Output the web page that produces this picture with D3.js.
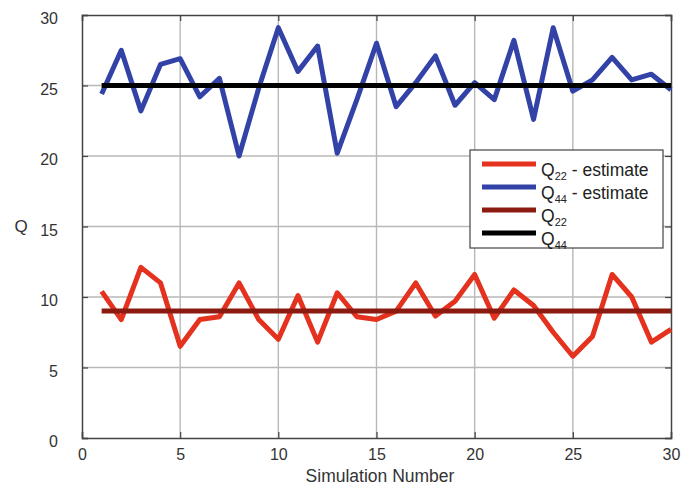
<!DOCTYPE html>
<html>
<head>
<meta charset="utf-8">
<script src="https://cdn.jsdelivr.net/npm/d3@7"></script>
<style>
  body { margin: 0; background: #fff; }
  svg text { font-family: "Liberation Sans", Arial, sans-serif; }
</style>
</head>
<body>
<div id="chart"></div>
<script>
const svgWidth = 690;
const svgHeight = 486;

// simulation number 1..30
const simNumbers = d3.range(1, 31);
const q22Estimate = [10.4, 8.4, 12.1, 11.0, 6.5, 8.4, 8.6, 11.0, 8.4, 7.0,
  10.1, 6.8, 10.3, 8.6, 8.4, 9.0, 11.0, 8.65, 9.7, 11.6,
  8.5, 10.5, 9.4, 7.5, 5.8, 7.2, 11.6, 10.0, 6.8, 7.7];
const q44Estimate = [24.4, 27.5, 23.2, 26.5, 26.9, 24.2, 25.5, 20.0, 24.8, 29.1,
  26.0, 27.8, 20.2, 24.0, 28.0, 23.5, 25.2, 27.1, 23.6, 25.2,
  24.0, 28.2, 22.6, 29.1, 24.6, 25.4, 27.0, 25.4, 25.8, 24.7];
const q22True = 9;
const q44True = 25;
const xTicks = [0, 5, 10, 15, 20, 25, 30];
const yTicks = [0, 5, 10, 15, 20, 25, 30];

const margin = { left: 82, right: 19, top: 15, bottom: 48 };
const w = svgWidth - margin.left - margin.right;
const h = svgHeight - margin.top - margin.bottom;

var svg = d3.select("#chart")
  .append("svg")
  .attr("width", svgWidth)
  .attr("height", svgHeight);

var g = svg.append("g").attr("transform", `translate(${margin.left},${margin.top})`);

var x = d3.scaleLinear().domain([0, 30]).range([0, w]);
var y = d3.scaleLinear().domain([0, 30]).range([h, 0]);

// grid
g.append("g")
  .selectAll("line.vx")
  .data(xTicks.slice(1, -1))
  .enter().append("line")
  .attr("x1", d => x(d)).attr("x2", d => x(d))
  .attr("y1", 0).attr("y2", h)
  .attr("stroke", "#b8b8b8").attr("stroke-width", 1.4);
g.append("g")
  .selectAll("line.hy")
  .data(yTicks.slice(1, -1))
  .enter().append("line")
  .attr("x1", 0).attr("x2", w)
  .attr("y1", d => y(d)).attr("y2", d => y(d))
  .attr("stroke", "#b8b8b8").attr("stroke-width", 1.4);

// axes (ticks pointing inward)
var xAxis = g.append("g").attr("transform", `translate(0,${h})`)
  .call(d3.axisBottom(x).tickValues(xTicks).tickSize(-6).tickPadding(11));
var yAxis = g.append("g")
  .call(d3.axisLeft(y).tickValues(yTicks).tickSize(-6).tickPadding(24));
g.append("g").call(d3.axisTop(x).tickValues(xTicks).tickSize(-6).tickFormat(""));
g.append("g").attr("transform", `translate(${w},0)`)
  .call(d3.axisRight(y).tickValues(yTicks).tickSize(-6).tickFormat(""));
g.selectAll(".domain").attr("stroke", "#444").attr("stroke-width", 1.5);
g.selectAll(".tick line").attr("stroke", "#444").attr("stroke-width", 1.2);
g.selectAll(".tick text").attr("font-size", 16).attr("fill", "#333")
  .attr("font-family", "Liberation Sans, Arial, sans-serif");
yAxis.selectAll(".tick text").attr("dy", "0.55em");

// lines
var line = d3.line().x((d, i) => x(simNumbers[i])).y(d => y(d));
const series = [
  { vals: q22Estimate, color: "#e4321f" },
  { vals: q44Estimate, color: "#3242a6" },
  { vals: simNumbers.map(() => q22True), color: "#8b1a10" },
  { vals: simNumbers.map(() => q44True), color: "#000000" }
];
series.forEach(s => {
  g.append("path")
    .datum(s.vals)
    .attr("d", line)
    .attr("fill", "none")
    .attr("stroke", s.color)
    .attr("stroke-width", 5)
    .attr("stroke-linejoin", "round");
});

// axis labels
svg.append("text")
  .attr("x", 380).attr("y", 482)
  .attr("text-anchor", "middle").attr("font-size", 17.5).attr("fill", "#333")
  .text("Simulation Number");
svg.append("text")
  .attr("x", 21).attr("y", 232)
  .attr("text-anchor", "middle").attr("font-size", 17).attr("fill", "#333")
  .text("Q");

// legend
const legendItems = [
  { base: "Q", sub: "22", rest: " - estimate", color: "#e4321f" },
  { base: "Q", sub: "44", rest: " - estimate", color: "#3242a6" },
  { base: "Q", sub: "22", rest: "", color: "#8b1a10" },
  { base: "Q", sub: "44", rest: "", color: "#000000" }
];
var legend = svg.append("g").attr("transform", "translate(470,150)");
legend.append("rect")
  .attr("width", 193).attr("height", 98)
  .attr("fill", "#fff").attr("stroke", "#444").attr("stroke-width", 1.2);
legendItems.forEach((it, i) => {
  var cy = 14 + i * 23;
  legend.append("line")
    .attr("x1", 12).attr("x2", 66).attr("y1", cy).attr("y2", cy)
    .attr("stroke", it.color).attr("stroke-width", 5);
  var t = legend.append("text")
    .attr("x", 71).attr("y", cy + 12)
    .attr("font-size", 17.5).attr("fill", "#222");
  t.append("tspan").text(it.base);
  t.append("tspan").attr("font-size", 11).attr("dy", 4).text(it.sub);
  t.append("tspan").attr("dy", -4).text(it.rest);
});
</script>
</body>
</html>
